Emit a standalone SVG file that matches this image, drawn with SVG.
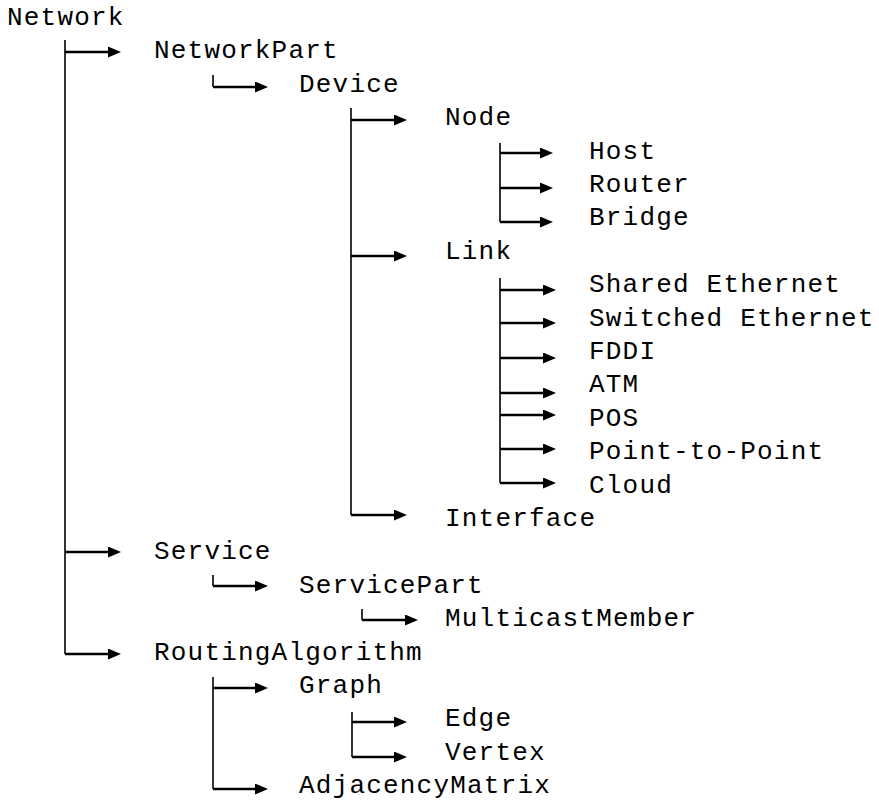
<svg xmlns="http://www.w3.org/2000/svg" width="879" height="804" viewBox="0 0 879 804">
<style>
text{font-family:"Liberation Mono","Courier New",monospace;font-size:26px;letter-spacing:1.2px;fill:#000}
.v{stroke:#000;stroke-width:1.6;fill:none}
.h{stroke:#000;stroke-width:2.4;fill:none;marker-end:url(#ah)}
</style>
<defs>
<marker id="ah" markerUnits="userSpaceOnUse" markerWidth="13" markerHeight="11" refX="9" refY="5.5" orient="auto">
<path d="M0,0 L13,5.5 L0,11 z" fill="#000"/>
</marker>
</defs>
<rect width="879" height="804" fill="#fff"/>
<g id="connectors">
<path class="v" d="M65,40 V654"/>
<path class="h" d="M65,52 H117"/>
<path class="h" d="M65,552 H117"/>
<path class="h" d="M65,654 H117"/>
<path class="v" d="M213,75 V87"/>
<path class="h" d="M213,87 H264"/>
<path class="v" d="M351,108 V515"/>
<path class="h" d="M351,120 H403"/>
<path class="h" d="M351,256 H403"/>
<path class="h" d="M351,515 H403"/>
<path class="v" d="M500,143 V222"/>
<path class="h" d="M500,153 H549"/>
<path class="h" d="M500,188 H549"/>
<path class="h" d="M500,222 H549"/>
<path class="v" d="M500,278 V483"/>
<path class="h" d="M500,290 H552"/>
<path class="h" d="M500,323 H552"/>
<path class="h" d="M500,358 H552"/>
<path class="h" d="M500,393 H552"/>
<path class="h" d="M500,415 H552"/>
<path class="h" d="M500,449 H552"/>
<path class="h" d="M500,483 H552"/>
<path class="v" d="M213,575 V586"/>
<path class="h" d="M213,586 H264"/>
<path class="v" d="M362,609 V620"/>
<path class="h" d="M362,620 H414"/>
<path class="v" d="M213,677 V789"/>
<path class="h" d="M213,688 H264"/>
<path class="h" d="M213,789 H264"/>
<path class="v" d="M352,712 V757"/>
<path class="h" d="M352,722 H403"/>
<path class="h" d="M352,757 H403"/>
</g>
<g id="n-network"><text x="7" y="25">Network</text></g>
<g id="n-networkpart"><text x="154" y="58.4">NetworkPart</text></g>
<g id="n-device"><text x="299" y="91.8">Device</text></g>
<g id="n-node"><text x="445" y="125.2">Node</text></g>
<g id="n-host"><text x="589" y="158.6">Host</text></g>
<g id="n-router"><text x="589" y="192">Router</text></g>
<g id="n-bridge"><text x="589" y="225.4">Bridge</text></g>
<g id="n-link"><text x="445" y="258.8">Link</text></g>
<g id="n-shared"><text x="589" y="292.2">Shared Ethernet</text></g>
<g id="n-switched"><text x="589" y="325.6">Switched Ethernet</text></g>
<g id="n-fddi"><text x="589" y="359">FDDI</text></g>
<g id="n-atm"><text x="589" y="392.4">ATM</text></g>
<g id="n-pos"><text x="589" y="425.8">POS</text></g>
<g id="n-p2p"><text x="589" y="459.2">Point-to-Point</text></g>
<g id="n-cloud"><text x="589" y="492.6">Cloud</text></g>
<g id="n-interface"><text x="445" y="526">Interface</text></g>
<g id="n-service"><text x="154" y="559.4">Service</text></g>
<g id="n-servicepart"><text x="299" y="592.8">ServicePart</text></g>
<g id="n-multicast"><text x="445" y="626.2">MulticastMember</text></g>
<g id="n-routing"><text x="154" y="659.6">RoutingAlgorithm</text></g>
<g id="n-graph"><text x="299" y="693">Graph</text></g>
<g id="n-edge"><text x="445" y="726.4">Edge</text></g>
<g id="n-vertex"><text x="445" y="759.8">Vertex</text></g>
<g id="n-adjacency"><text x="299" y="793.2">AdjacencyMatrix</text></g>
</svg>
